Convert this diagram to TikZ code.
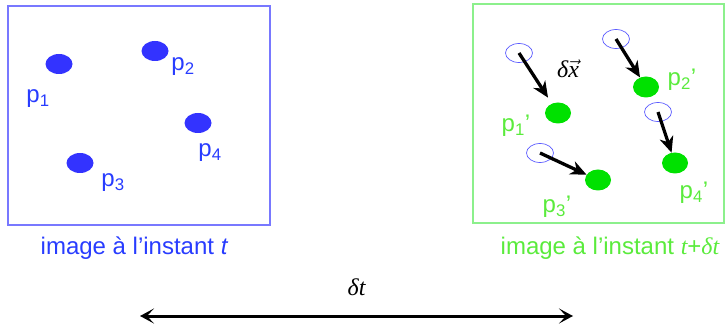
\documentclass[tikz,border=0pt]{standalone}
\usepackage{fontspec}
\setmainfont{Liberation Sans}
\newfontfamily\serifit[ItalicFont={Liberation Serif Italic}]{Liberation Serif}
\usetikzlibrary{shapes.geometric,arrows.meta,positioning}
\definecolor{dotblue}{RGB}{51,51,255}
\definecolor{textblue}{RGB}{40,60,255}
\definecolor{frameblue}{RGB}{120,120,255}
\definecolor{dotgreen}{RGB}{0,225,0}
\definecolor{textgreen}{RGB}{90,235,60}
\definecolor{framegreen}{RGB}{140,240,140}
\begin{document}
\begin{tikzpicture}[
  x=1pt, y=-1pt,
  frame/.style={draw, line width=1.2pt, minimum width=#1, minimum height=219pt, inner sep=0},
  olddot/.style={ellipse, fill=dotblue, minimum width=27pt, minimum height=20pt, inner sep=0},
  newdot/.style={ellipse, fill=dotgreen, minimum width=26pt, minimum height=21pt, inner sep=0},
  ghost/.style={ellipse, draw=dotblue!80, line width=0.7pt, minimum width=27pt, minimum height=19pt, inner sep=0},
  plabel/.style={inner sep=0, font=\fontsize{24}{27}\selectfont},
  caption/.style={inner sep=0, font=\fontsize{24}{28}\selectfont},
  move/.style={-{Stealth[length=16pt,width=14pt,inset=5pt]}, line width=3.3pt},
  span/.style={{Stealth[length=14pt,width=15pt,inset=7pt]}-{Stealth[length=14pt,width=15pt,inset=7pt]}, line width=3pt}
]
\useasboundingbox (0,0) rectangle (726,331);
% image at t
\node[frame=262pt, draw=frameblue] (img0) at (139,115.5) {};
\node[olddot] (p1) at (59,64) {};
\node[olddot] (p2) at (155,51) {};
\node[olddot] (p3) at (80,163) {};
\node[olddot] (p4) at (198,123) {};
\node[plabel, text=textblue] (l1) at (38,99) {p\textsubscript{1}};
\node[plabel, text=textblue] (l2) at (183,67) {p\textsubscript{2}};
\node[plabel, text=textblue] (l3) at (113,183) {p\textsubscript{3}};
\node[plabel, text=textblue] (l4) at (210,153) {p\textsubscript{4}};
\node[caption, text=textblue] (cap0) at (134.5,248) {image à l’instant \textit{t}};
% image at t + dt
\node[frame=251pt, draw=framegreen] (img1) at (598.5,113.5) {};
\node[ghost] (c1) at (519,53) {};
\node[ghost] (c2) at (616,39) {};
\node[ghost] (c3) at (540,153) {};
\node[ghost] (c4) at (658,112) {};
\node[newdot] (q1) at (558,113) {};
\node[newdot] (q2) at (646,87) {};
\node[newdot] (q3) at (598,180) {};
\node[newdot] (q4) at (675,163) {};
\draw[move, shorten >=7pt] (c1.center) -- (q1);
\draw[move] (c2.center) -- (q2);
\draw[move] (c3.center) -- (q3);
\draw[move] (c4.center) -- (q4);
\node[plabel] (dx) at (568,69) {{\serifit\itshape δ}\ensuremath{\vec{\mbox{\serifit\itshape x}}}};
\node[plabel, text=textgreen] (m1) at (516,126) {p\textsubscript{1}’};
\node[plabel, text=textgreen] (m2) at (682,80) {p\textsubscript{2}’};
\node[plabel, text=textgreen] (m3) at (557,207) {p\textsubscript{3}’};
\node[plabel, text=textgreen] (m4) at (694,193) {p\textsubscript{4}’};
\node[caption, text=textgreen] (cap1) at (610,248) {image à l’instant {\serifit\itshape t}+{\serifit\itshape δt}};
% time step
\coordinate (t0) at (140,316);
\coordinate (t1) at (573,316);
\draw[span] (t0) -- node[caption, above=19pt] (dt) {\serifit\itshape δt} (t1);
\end{tikzpicture}
\end{document}
